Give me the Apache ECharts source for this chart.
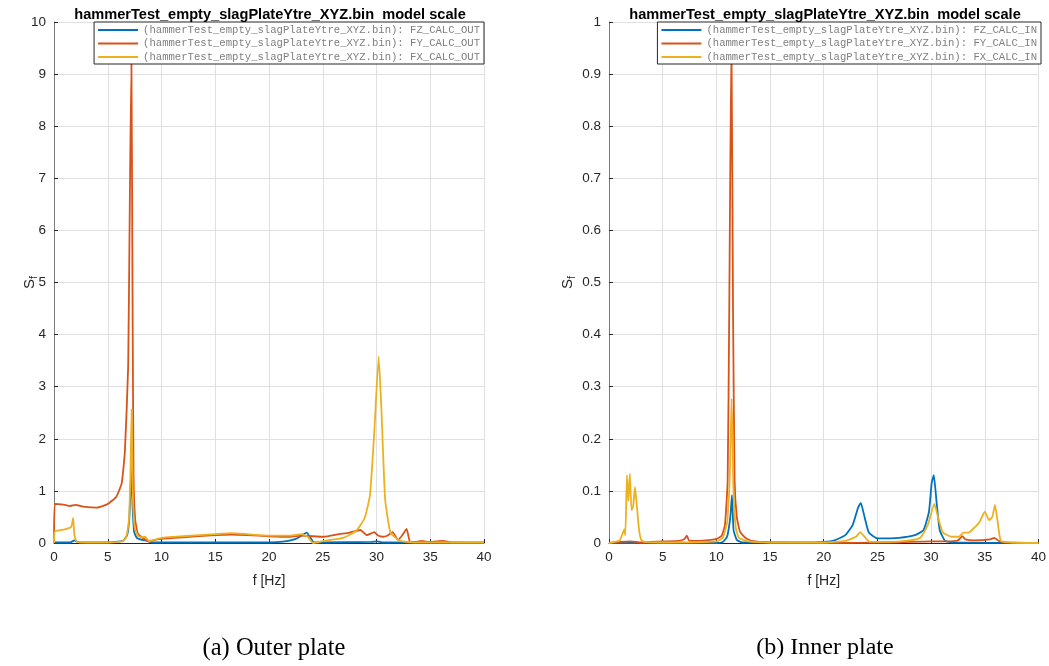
<!DOCTYPE html>
<html>
<head>
<meta charset="utf-8">
<script src="https://cdn.jsdelivr.net/npm/echarts@6/dist/echarts.min.js"></script>
<style>
  html, body { margin: 0; padding: 0; background: #ffffff; }
  #chart { width: 1049px; height: 666px; }
</style>
</head>
<body>
<div id="chart"></div>
<script>
// Spectral force density of the hammer test, outer plate (OUT) and inner plate (IN)
const titleText = 'hammerTest_empty_slagPlateYtre_XYZ.bin  model scale';
const xTicks = [0, 5, 10, 15, 20, 25, 30, 35, 40];

// Outer plate, FZ_CALC_OUT
const outFzF = [0, 1.5, 1.9, 2.1, 2.4, 5, 6.4, 6.8, 7.0, 7.1, 7.2, 7.3, 7.45, 7.7, 8.2, 8.7, 9.1, 15, 20, 21.5, 22.5, 23.1, 23.5, 23.8, 24.1, 24.5, 29.5, 30.1, 30.5, 31, 40];
const outFzS = [0.01, 0.01, 0.05, 0.03, 0.01, 0.01, 0.04, 0.15, 0.45, 0.95, 1.43, 0.75, 0.22, 0.1, 0.06, 0.04, 0.01, 0.01, 0.01, 0.03, 0.08, 0.15, 0.2, 0.12, 0.02, 0.01, 0.02, 0.03, 0.01, 0.01, 0.0];

// Outer plate, FY_CALC_OUT
const outFyF = [0, 0.08, 1.0, 1.5, 2.0, 2.7, 4.0, 5.0, 5.8, 6.3, 6.6, 6.9, 7.05, 7.2, 7.3, 7.4, 7.55, 7.8, 8.3, 8.9, 9.2, 10, 12, 15, 16.5, 18, 20, 22, 23, 25.1, 26.5, 27.5, 28.5, 29.1, 29.8, 30.1, 30.6, 31.0, 31.5, 32.0, 32.4, 32.8, 33.1, 33.6, 34.2, 34.8, 35.5, 36.2, 37, 40];
const outFyS = [0.0, 0.75, 0.73, 0.71, 0.73, 0.70, 0.68, 0.75, 0.89, 1.15, 1.78, 3.4, 6.5, 9.3, 5.0, 1.3, 0.45, 0.18, 0.09, 0.02, 0.05, 0.08, 0.11, 0.15, 0.16, 0.15, 0.13, 0.12, 0.14, 0.12, 0.17, 0.2, 0.25, 0.15, 0.21, 0.15, 0.12, 0.14, 0.21, 0.06, 0.15, 0.27, 0.03, 0.02, 0.04, 0.02, 0.03, 0.04, 0.01, 0.01];

// Outer plate, FX_CALC_OUT
const outFxF = [0, 0.08, 1.0, 1.6, 1.78, 1.9, 2.1, 3, 5, 6.3, 6.7, 6.95, 7.1, 7.22, 7.32, 7.5, 7.8, 8.1, 8.5, 8.8, 9.1, 10, 12, 15, 16.5, 18, 20, 22, 23, 23.6, 24.1, 25.1, 26.9, 28.1, 28.9, 29.4, 29.8, 30.2, 30.45, 30.8, 31.3, 32.2, 33.5, 40];
const outFxS = [0.0, 0.22, 0.26, 0.31, 0.48, 0.15, 0.03, 0.01, 0.01, 0.03, 0.1, 0.4, 1.2, 2.57, 1.0, 0.3, 0.14, 0.11, 0.12, 0.04, 0.05, 0.1, 0.13, 0.17, 0.19, 0.17, 0.14, 0.14, 0.17, 0.12, 0.0, 0.04, 0.1, 0.23, 0.48, 0.93, 2.15, 3.58, 2.6, 0.85, 0.2, 0.04, 0.01, 0.01];

// Inner plate, FZ_CALC_IN
const inFzF = [0, 10, 10.6, 11.0, 11.3, 11.45, 11.6, 11.9, 12.4, 18, 20, 21, 22, 22.7, 23.2, 23.45, 23.8, 24.2, 25, 27, 28.5, 29.3, 29.8, 30.05, 30.25, 30.5, 30.8, 31.3, 32, 40];
const inFzS = [0.0, 0.0, 0.002, 0.012, 0.05, 0.092, 0.025, 0.006, 0.001, 0.001, 0.002, 0.005, 0.015, 0.035, 0.068, 0.077, 0.05, 0.02, 0.009, 0.01, 0.015, 0.025, 0.06, 0.115, 0.13, 0.08, 0.025, 0.004, 0.001, 0.0];

// Inner plate, FY_CALC_IN
const inFyF = [0, 1, 2, 3, 5, 6.5, 7.0, 7.25, 7.45, 8, 9, 10, 10.5, 10.8, 11.05, 11.2, 11.4, 11.55, 11.7, 11.9, 12.2, 12.7, 13.3, 15, 20, 26, 30, 31.5, 32.5, 32.9, 33.2, 34, 35.5, 35.9, 36.3, 37, 40];
const inFyS = [0.0, 0.002, 0.003, 0.001, 0.003, 0.004, 0.007, 0.014, 0.005, 0.004, 0.005, 0.008, 0.014, 0.035, 0.12, 0.45, 0.975, 0.45, 0.12, 0.05, 0.022, 0.01, 0.004, 0.001, 0.0, 0.001, 0.003, 0.003, 0.005, 0.013, 0.007, 0.005, 0.007, 0.01, 0.004, 0.001, 0.0];

// Inner plate, FX_CALC_IN
const inFxF = [0, 0.5, 1.0, 1.3, 1.42, 1.52, 1.67, 1.8, 1.94, 2.1, 2.25, 2.42, 2.6, 2.8, 3.0, 3.3, 5, 10, 10.6, 11.0, 11.25, 11.42, 11.58, 11.8, 12.1, 13, 15, 20, 22, 23, 23.4, 23.8, 24.3, 26, 28, 29, 29.7, 30.3, 30.7, 31.1, 31.9, 32.6, 33.0, 33.5, 34.0, 34.5, 35.0, 35.4, 35.7, 35.95, 36.2, 36.5, 37.5, 40];
const inFxS = [0.0, 0.002, 0.005, 0.02, 0.026, 0.015, 0.13, 0.08, 0.133, 0.063, 0.07, 0.107, 0.07, 0.025, 0.006, 0.002, 0.001, 0.003, 0.01, 0.04, 0.13, 0.277, 0.11, 0.03, 0.01, 0.003, 0.001, 0.001, 0.004, 0.012, 0.021, 0.012, 0.002, 0.002, 0.005, 0.01, 0.035, 0.075, 0.045, 0.02, 0.012, 0.012, 0.02, 0.02, 0.029, 0.04, 0.06, 0.044, 0.05, 0.073, 0.04, 0.004, 0.001, 0.0];

const COLORS = { fz: '#0072BD', fy: '#D95319', fx: '#EDB120' };
const pairs = (f, s) => f.map((v, i) => [v, s[i]]);

const outSeries = [
  { name: '(hammerTest_empty_slagPlateYtre_XYZ.bin): FZ_CALC_OUT', f: outFzF, s: outFzS, color: COLORS.fz },
  { name: '(hammerTest_empty_slagPlateYtre_XYZ.bin): FY_CALC_OUT', f: outFyF, s: outFyS, color: COLORS.fy },
  { name: '(hammerTest_empty_slagPlateYtre_XYZ.bin): FX_CALC_OUT', f: outFxF, s: outFxS, color: COLORS.fx }
];
const inSeries = [
  { name: '(hammerTest_empty_slagPlateYtre_XYZ.bin): FZ_CALC_IN', f: inFzF, s: inFzS, color: COLORS.fz },
  { name: '(hammerTest_empty_slagPlateYtre_XYZ.bin): FY_CALC_IN', f: inFyF, s: inFyS, color: COLORS.fy },
  { name: '(hammerTest_empty_slagPlateYtre_XYZ.bin): FX_CALC_IN', f: inFxF, s: inFxS, color: COLORS.fx }
];

const TXT = '#262626';
const SANS = '"Liberation Sans", Arial, Helvetica, sans-serif';
const SERIF = '"Liberation Serif", "Times New Roman", serif';

function xAxisDef(gridIndex) {
  return {
    type: 'value', gridIndex, min: 0, max: 40, interval: 5,
    name: 'f [Hz]', nameLocation: 'middle', nameGap: 31,
    nameTextStyle: { color: TXT, fontSize: 14, fontFamily: SANS },
    axisLine: { lineStyle: { color: TXT, width: 1 } },
    axisTick: { inside: true, length: 4, lineStyle: { color: TXT } },
    axisLabel: { color: TXT, fontSize: 13.5, fontFamily: SANS, margin: 7,
                 formatter: v => (xTicks.includes(v) ? String(v) : '') },
    splitLine: { show: true, lineStyle: { color: '#e0e0e0', width: 1 } }
  };
}
function yAxisDef(gridIndex, max, interval, gap) {
  return {
    type: 'value', gridIndex, min: 0, max, interval,
    name: '{s|S}{f|f}', nameLocation: 'middle', nameGap: gap, nameRotate: 90,
    nameMoveOverlap: false,
    nameTextStyle: {
      color: TXT, fontFamily: SANS,
      rich: {
        s: { fontSize: 15, color: TXT, fontFamily: SANS, lineHeight: 20, verticalAlign: 'middle' },
        f: { fontSize: 10.5, color: TXT, fontFamily: SANS, lineHeight: 12, verticalAlign: 'bottom' }
      }
    },
    axisLine: { show: true, lineStyle: { color: '#7a7a7a', width: 1 } },
    axisTick: { show: true, inside: true, length: 4, lineStyle: { color: TXT } },
    axisLabel: { color: TXT, fontSize: 13.5, fontFamily: SANS, margin: 8,
                 formatter: v => String(Math.round(v * 10) / 10) },
    splitLine: { show: true, lineStyle: { color: '#e0e0e0', width: 1 } }
  };
}
function legendDef(list, right) {
  return {
    data: list.map(d => d.name), orient: 'vertical', top: 22, right,
    icon: 'rect', itemWidth: 40, itemHeight: 2, itemGap: 1.5,
    padding: [2, 4, 1, 4],
    backgroundColor: '#ffffff', borderColor: '#262626', borderWidth: 1, borderRadius: 0,
    textStyle: { fontFamily: '"Liberation Mono", "Courier New", monospace', fontSize: 10.6,
                 color: '#7f7f7f', lineHeight: 12, padding: [0, 0, 0, 0] },
    selectedMode: false
  };
}
function seriesDefs(list, idx) {
  return list.map(d => ({
    type: 'line', name: d.name, xAxisIndex: idx, yAxisIndex: idx,
    data: pairs(d.f, d.s), showSymbol: false, symbol: 'none', smooth: 0.15,
    lineStyle: { color: d.color, width: 1.8 }, itemStyle: { color: d.color },
    animation: false, clip: true
  }));
}

const chart = echarts.init(document.getElementById('chart'), null, { renderer: 'canvas' });
chart.setOption({
  backgroundColor: '#ffffff',
  animation: false,
  title: [
    { text: titleText, left: 265, top: 2, textAlign: 'center',
      textStyle: { fontFamily: SANS, fontWeight: 'bold', fontSize: 14.6, color: '#000' } },
    { text: titleText, left: 820, top: 2, textAlign: 'center',
      textStyle: { fontFamily: SANS, fontWeight: 'bold', fontSize: 14.6, color: '#000' } },
    { text: '(a) Outer plate', left: 269, top: 631, textAlign: 'center',
      textStyle: { fontFamily: SERIF, fontWeight: 'normal', fontSize: 24.5, color: '#000' } },
    { text: '(b) Inner plate', left: 820, top: 631, textAlign: 'center',
      textStyle: { fontFamily: SERIF, fontWeight: 'normal', fontSize: 24, color: '#000' } }
  ],
  grid: [
    { left: 54, top: 22, width: 430, height: 521, containLabel: false },
    { left: 609, top: 22, width: 432, height: 521, containLabel: false }
  ],
  xAxis: [xAxisDef(0), xAxisDef(1)],
  yAxis: [yAxisDef(0, 10, 1, 14), yAxisDef(1, 1, 0.1, 31)],
  legend: [legendDef(outSeries, 1049 - 484), legendDef(inSeries, 1049 - 1041)],
  series: [...seriesDefs(outSeries, 0), ...seriesDefs(inSeries, 1)]
});
</script>
</body>
</html>
